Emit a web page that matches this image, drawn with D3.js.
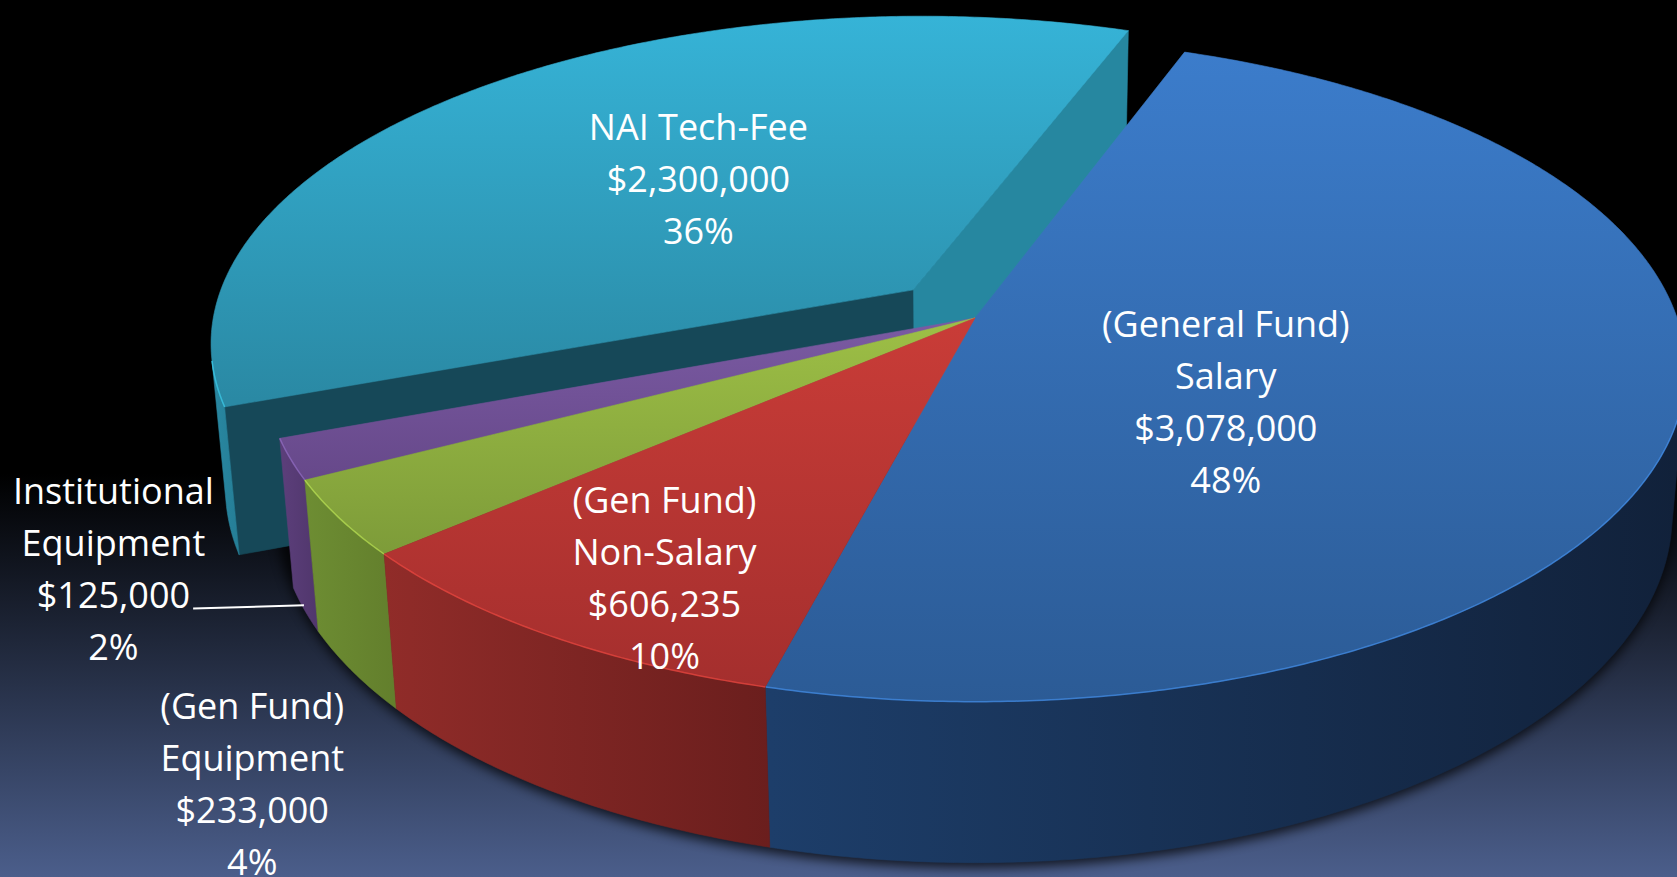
<!DOCTYPE html>
<meta charset="utf-8">
<script src="https://d3js.org/d3.v7.min.js"></script>
<style>
  body { margin: 0; background: #000; overflow: hidden; }
  .lbl { font-family: "Open Sans", Lato, sans-serif; font-size: 36px; fill: #fff; }
</style>
<body>
<div id="chart"></div>
<script>
// ---- data, in order round the pie (clockwise, starting at the far right) ----
const names = [["(General Fund)", "Salary"], ["(Gen Fund)", "Non-Salary"], ["(Gen Fund)", "Equipment"], ["Institutional", "Equipment"], ["NAI Tech-Fee"]];
const amounts = [3078000, 606235, 233000, 125000, 2300000];
const percents = [48, 10, 4, 2, 36];

// ---- look ----
const explode = [0, 0, 0, 0, 0.125];
const topColors = [["#3c7dcc", "#2b5a94"], ["#cb3d38", "#a32e2d"], ["#a0c247", "#7b9938"], ["#7d5da6", "#654788"], ["#36b4d8", "#2a89a4"]];
const topRange = [[40, 720], [300, 700], [300, 570], [300, 490], [10, 400]];
const sideColors = [["#1d3e6a", "#11213a"], ["#912c29", "#6a1e1d"], ["#6e8e33", "#627e2c"], ["#5c3f7b", "#4e3469"], ["#2b8ca7", "#22768d"]];
const sideRange = [[770, 1680], [380, 775], [300, 400], [280, 325], [200, 260]];
const faceColors = [["#2687a0", "#2687a0"], null, null, null, ["#164858", "#2687a0"]]; // [start face, end face]
// where each label sits, in pie coordinates: [angle in degrees, radius]
const labelAt = [[35.9, 0.424], [118.9, 0.814], [125.6, 1.446], [147.8, 1.295], [228.2, 0.5]];
const leaderSlice = 3;

const width = 1677, height = 877;
const cam = {cx: 975, cy: 318, f: 4016, dist: 5.72, tilt: 27.5 * Math.PI / 180};
const depth = 0.235;                 // thickness of the pie, radius = 1
const theta0 = -70 * Math.PI / 180;  // where the first slice starts
const sinT = Math.sin(cam.tilt), cosT = Math.cos(cam.tilt);

// perspective projection of a point on the pie (x right, y towards viewer, z up)
function project([X, Y, Z]) {
  const z = cam.dist - Y * cosT - Z * sinT;
  return [cam.cx + cam.f * X / z, cam.cy + cam.f * (Y * sinT - Z * cosT) / z];
}

const svg = d3.select("#chart").append("svg")
  .attr("width", width).attr("height", height);
const defs = svg.append("defs");

// background
const bg = defs.append("linearGradient").attr("id", "bg").attr("x1", 0).attr("x2", 0).attr("y1", 0).attr("y2", 1);
bg.append("stop").attr("offset", 0.54).attr("stop-color", "#000");
bg.append("stop").attr("offset", 1).attr("stop-color", "#4b5e8b");
svg.append("rect").attr("width", width).attr("height", height).attr("fill", "url(#bg)");

function grad(id, c, r, vertical) {
  const g = defs.append("linearGradient").attr("id", id).attr("gradientUnits", "userSpaceOnUse");
  if (vertical) g.attr("x1", 0).attr("x2", 0).attr("y1", r[0]).attr("y2", r[1]);
  else g.attr("y1", 0).attr("y2", 0).attr("x1", r[0]).attr("x2", r[1]);
  g.append("stop").attr("offset", 0).attr("stop-color", c[0]);
  g.append("stop").attr("offset", 1).attr("stop-color", c[1]);
  return `url(#${id})`;
}

const blur = defs.append("filter").attr("id", "shadow").attr("x", "-10%").attr("y", "-10%").attr("width", "120%").attr("height", "130%");
blur.append("feGaussianBlur").attr("stdDeviation", 6);

const arcs = d3.pie().sort(null).value(d => d)(amounts);
const line = d3.line();
const step = Math.PI / 360;

const slices = arcs.map((a, i) => {
  const s = theta0 + a.startAngle, e = theta0 + a.endAngle, mid = (s + e) / 2;
  return {i, s, e, mid, o: [explode[i] * Math.cos(mid), explode[i] * Math.sin(mid)]};
});

function rim(sl, t, Z) { return project([sl.o[0] + Math.cos(t), sl.o[1] + Math.sin(t), Z]); }
function centre(sl, Z) { return project([sl.o[0], sl.o[1], Z]); }
function samples(s, e) {
  const n = Math.max(2, Math.ceil((e - s) / step));
  return d3.range(n + 1).map(k => s + (e - s) * k / n);
}

// soft shadow under the pie
const under = samples(0, 2 * Math.PI).map(t => project([Math.cos(t), Math.sin(t), -depth]).map((v, j) => v + (j ? 5 : 0)));
svg.append("path").attr("d", line(under) + "Z").attr("fill", "#000").attr("opacity", 0.75).attr("filter", "url(#shadow)");

// draw slices from back to front
const order = slices.slice().sort((a, b) => Math.sin(a.mid) - Math.sin(b.mid));
const camY = cam.dist * cosT;

order.forEach(sl => {
  const g = svg.append("g");
  const i = sl.i;
  const neighbourExploded = explode[i] > 0 || explode[(i + 1) % 5] > 0 || explode[(i + 4) % 5] > 0;

  // flat faces on the cut edges
  if (neighbourExploded && faceColors[i]) {
    [[sl.s, [Math.sin(sl.s), -Math.cos(sl.s)], 0], [sl.e, [-Math.sin(sl.e), Math.cos(sl.e)], 1]].forEach(([t, n, k]) => {
      const vis = n[1] * camY - (n[0] * sl.o[0] + n[1] * sl.o[1]);
      if (vis <= 0) return;
      const pts = [centre(sl, 0), rim(sl, t, 0), rim(sl, t, -depth), centre(sl, -depth)];
      g.append("path").attr("d", line(pts) + "Z").attr("fill", faceColors[i][k])
        .attr("stroke", faceColors[i][k]).attr("stroke-width", 0.6);
    });
  }

  // outer wall, only the part that faces the viewer
  const seen = samples(sl.s, sl.e).filter(t =>
    Math.sin(t) * camY - (Math.cos(t) * sl.o[0] + Math.sin(t) * sl.o[1]) - 1 > 0);
  if (seen.length > 1) {
    const wall = seen.map(t => rim(sl, t, 0)).concat(seen.slice().reverse().map(t => rim(sl, t, -depth)));
    const fill = grad("side" + i, sideColors[i], sideRange[i], false);
    g.append("path").attr("d", line(wall) + "Z").attr("fill", fill).attr("stroke", fill).attr("stroke-width", 0.6);
  }

  // top
  const top = [centre(sl, 0)].concat(samples(sl.s, sl.e).map(t => rim(sl, t, 0)));
  const tf = grad("top" + i, topColors[i], topRange[i], true);
  g.append("path").attr("d", line(top) + "Z").attr("fill", tf).attr("stroke", tf).attr("stroke-width", 0.6);
  if (seen.length > 1) {
    g.append("path").attr("d", line(seen.map(t => rim(sl, t, 0))))
      .attr("fill", "none").attr("stroke", d3.color(topColors[i][0]).brighter(0.6))
      .attr("stroke-width", 1.5).attr("opacity", 0.6);
  }
});

// labels
const fmt = d3.format("$,.0f");
const lineStep = 52;
labelAt.forEach(([deg, r], i) => {
  const sl = slices[i], t = deg * Math.PI / 180;
  const [lx, ly] = project([sl.o[0] + r * Math.cos(t), sl.o[1] + r * Math.sin(t), 0]);
  const lines = names[i].concat([fmt(amounts[i]), percents[i] + "%"]);
  const y0 = ly - (lines.length - 1) / 2 * lineStep + 13;
  const txt = svg.append("text").attr("class", "lbl").attr("text-anchor", "middle");
  lines.forEach((l, k) => txt.append("tspan").attr("x", lx).attr("y", y0 + k * lineStep).text(l));

  if (i === leaderSlice) {
    const amountLine = txt.selectAll("tspan").nodes()[lines.length - 2];
    const w = amountLine.getComputedTextLength();
    const end = project([Math.cos(sl.mid), Math.sin(sl.mid), -depth * 0.97]);
    svg.append("line")
      .attr("x1", lx + w / 2 + 3).attr("y1", y0 + (lines.length - 2) * lineStep + 1)
      .attr("x2", end[0]).attr("y2", end[1])
      .attr("stroke", "#fff").attr("stroke-width", 2);
  }
});
</script>
</body>
